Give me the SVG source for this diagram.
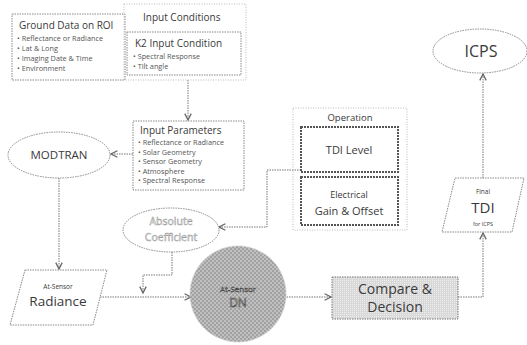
<svg xmlns="http://www.w3.org/2000/svg" width="527" height="345" viewBox="0 0 527 345">
<defs>
<style>
.t{font-family:"Open Sans","Noto Sans",sans-serif;fill:#3a3a3a}
.h{font-size:10px}
.b{font-size:7.3px;fill:#555}
.box{fill:#fff;stroke:#888;stroke-width:1;stroke-dasharray:1.5 1}
.lite{fill:none;stroke:#bbb;stroke-width:1;stroke-dasharray:1 1.5}
.dark{fill:#fff;stroke:#555;stroke-width:2;stroke-dasharray:2 1}
.c{fill:none;stroke:#777;stroke-width:1;stroke-dasharray:1.5 1}
.o{font-family:"Open Sans","Noto Sans",sans-serif;text-anchor:middle}
</style>
<marker id="ah" viewBox="0 0 10 10" refX="9" refY="5" markerWidth="8" markerHeight="8" orient="auto" markerUnits="userSpaceOnUse">
<path d="M1,1 L9,5 L1,9" fill="none" stroke="#666" stroke-width="1.6"/>
</marker>
<pattern id="chk" width="4" height="4" patternUnits="userSpaceOnUse">
<rect width="4" height="4" fill="#a2a2a2"/>
<rect width="2" height="2" fill="#c0c0c0"/>
<rect x="2" y="2" width="2" height="2" fill="#c0c0c0"/>
</pattern>
<pattern id="chk2" width="2" height="2" patternUnits="userSpaceOnUse">
<rect width="2" height="2" fill="#d8d8d8"/>
<rect width="1" height="1" fill="#eee"/>
</pattern>
</defs>
<rect width="527" height="345" fill="#fff"/>

<g id="connectors">
<path class="c" d="M188,80 V120" marker-end="url(#ah)"/>
<path class="c" d="M133,154 H111" marker-end="url(#ah)"/>
<path class="c" d="M59,178 V269" marker-end="url(#ah)"/>
<path class="c" d="M301,170 H267 V227 H219" marker-end="url(#ah)"/>
<path class="c" d="M172,252 V275 H143 V293" marker-end="url(#ah)"/>
<path class="c" d="M100,297 H191" marker-end="url(#ah)"/>
<path class="c" d="M284,297 H331" marker-end="url(#ah)"/>
<path class="c" d="M458,297 H483 V233" marker-end="url(#ah)"/>
<path class="c" d="M483,178 V74" marker-end="url(#ah)"/>
</g>

<g id="ground-data">
<rect class="box" x="12" y="14" width="113" height="66"/>
<text class="t h" x="19" y="29">Ground Data on ROI</text>
<text class="t b" x="17" y="41">• Reflectance or Radiance</text>
<text class="t b" x="17" y="51">• Lat &amp; Long</text>
<text class="t b" x="17" y="61">• Imaging Date &amp; Time</text>
<text class="t b" x="17" y="71">• Environment</text>
</g>

<g id="input-conditions">
<rect class="lite" x="124" y="4" width="122" height="76"/>
<text class="t h" x="143" y="21">Input Conditions</text>
<rect class="box" x="127" y="32" width="114" height="43"/>
<text class="t h" x="135" y="47">K2 Input Condition</text>
<text class="t b" x="133" y="59">• Spectral Response</text>
<text class="t b" x="133" y="69">• Tilt angle</text>
</g>

<g id="input-parameters">
<rect class="box" x="133" y="121" width="111" height="69"/>
<text class="t h" x="140" y="134">Input Parameters</text>
<text class="t b" x="138" y="145">• Reflectance or Radiance</text>
<text class="t b" x="138" y="154.5">• Solar Geometry</text>
<text class="t b" x="138" y="164">• Sensor Geometry</text>
<text class="t b" x="138" y="173.5">• Atmosphere</text>
<text class="t b" x="138" y="183">• Spectral Response</text>
</g>

<g id="modtran">
<ellipse class="box" cx="59" cy="155" rx="51" ry="23"/>
<text class="t" x="59" y="159" font-size="11.5" text-anchor="middle">MODTRAN</text>
</g>

<g id="operation">
<rect class="lite" x="293" y="108" width="114" height="122"/>
<text class="t" x="350" y="121" font-size="9.5" text-anchor="middle">Operation</text>
</g>

<g id="tdi-level">
<rect class="dark" x="301" y="127" width="97" height="45"/>
<text class="t" x="349" y="154" font-size="11" text-anchor="middle">TDI Level</text>
</g>

<g id="electrical">
<rect class="dark" x="301" y="177" width="97" height="48"/>
<text class="t" x="349" y="198" font-size="9" text-anchor="middle" fill="#555">Electrical</text>
<text class="t" x="349" y="215" font-size="11" text-anchor="middle">Gain &amp; Offset</text>
</g>

<g id="absolute-coefficient">
<ellipse class="box" cx="171" cy="230" rx="48" ry="22" stroke="#999"/>
<text class="o" x="171" y="225" font-size="10.5" fill="#fff" stroke="#999" stroke-width="0.5">Absolute</text>
<text class="o" x="171" y="241" font-size="10.5" fill="#fff" stroke="#999" stroke-width="0.5">Coefficient</text>
</g>

<g id="radiance">
<polygon class="box" points="25,270 107,270 93,325 10,325"/>
<text class="t" x="58" y="289" font-size="6.5" text-anchor="middle">At-Sensor</text>
<text class="t" x="58" y="306" font-size="13.5" text-anchor="middle">Radiance</text>
</g>

<g id="at-sensor-dn">
<circle cx="238" cy="294" r="48" fill="url(#chk)" stroke="#ccc" stroke-width="1" stroke-dasharray="1.5 1"/>
<text class="o" x="238" y="292" font-size="8" fill="#eee" stroke="#444" stroke-width="0.5">At-Sensor</text>
<text class="o" x="238" y="307" font-size="12" fill="#eee" stroke="#444" stroke-width="0.6">DN</text>
</g>

<g id="compare-decision">
<rect x="332" y="277" width="126" height="42" fill="url(#chk2)" stroke="#777" stroke-width="1" stroke-dasharray="1.5 1"/>
<text class="t" x="395" y="294" font-size="14" text-anchor="middle">Compare &amp;</text>
<text class="t" x="395" y="312" font-size="14" text-anchor="middle">Decision</text>
</g>

<g id="final-tdi">
<polygon class="box" points="455,178 524,178 512,232 442,232"/>
<text class="t" x="483" y="194" font-size="6.5" text-anchor="middle">Final</text>
<text class="t" x="483" y="213" font-size="15" text-anchor="middle">TDI</text>
<text class="t" x="483" y="226" font-size="5.5" text-anchor="middle">for ICPS</text>
</g>

<g id="icps">
<ellipse class="box" cx="480" cy="51" rx="47" ry="22"/>
<text class="t" x="481" y="57" font-size="16" text-anchor="middle">ICPS</text>
</g>
</svg>
